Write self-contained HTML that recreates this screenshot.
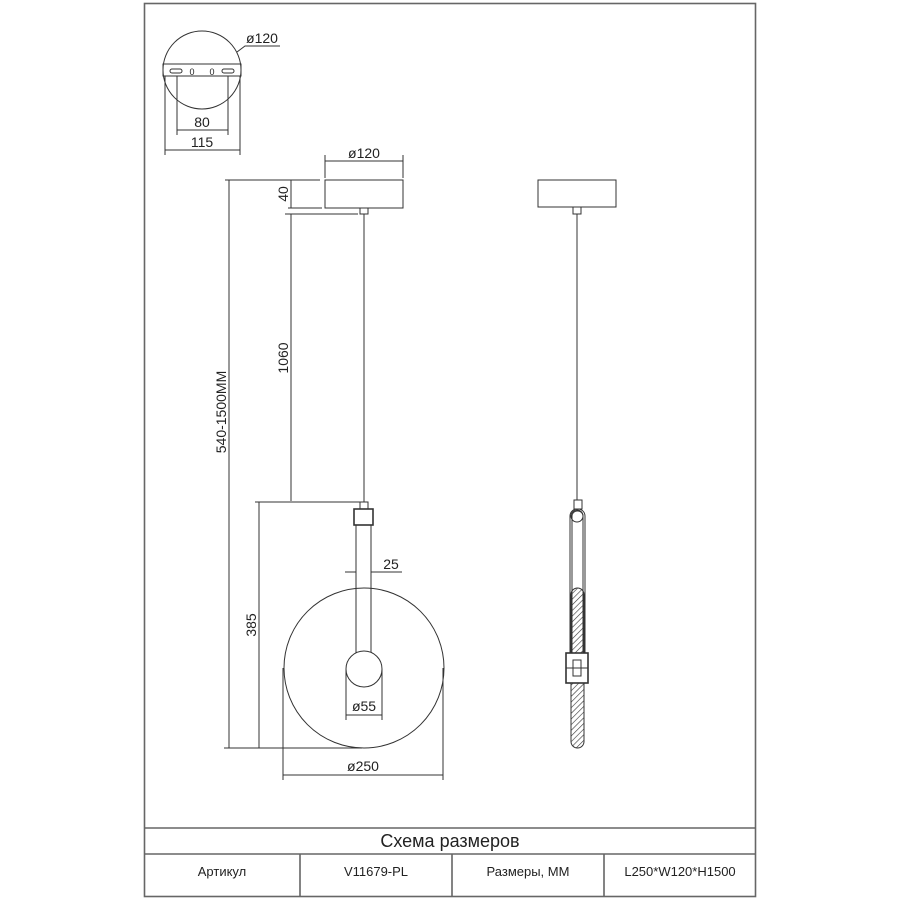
<!DOCTYPE html>
<html><head><meta charset="utf-8"><style>
html,body{margin:0;padding:0;background:#fff;}
svg{display:block;}
text{font-family:"Liberation Sans","DejaVu Sans",sans-serif;fill:#222;}
</style></head><body>
<svg width="900" height="900" viewBox="0 0 900 900" xmlns="http://www.w3.org/2000/svg">
<defs>
<pattern id="h" width="4" height="4" patternUnits="userSpaceOnUse" patternTransform="rotate(45)">
<line x1="0" y1="0" x2="0" y2="4" stroke="#333" stroke-width="1.2"/></pattern>
</defs>
<g fill="none" stroke="#666" stroke-width="1.6">
<rect x="144.5" y="3.5" width="611" height="893"/>
<line x1="144" y1="828" x2="756" y2="828"/>
<line x1="144" y1="854" x2="756" y2="854"/>
<line x1="300" y1="854" x2="300" y2="897"/>
<line x1="452" y1="854" x2="452" y2="897"/>
<line x1="604" y1="854" x2="604" y2="897"/>
</g>
<g fill="none" stroke="#333" stroke-width="1">
<circle cx="202" cy="70" r="39"/>
<rect x="163" y="64" width="78" height="12"/>
<rect x="170" y="69" width="12" height="4" rx="2"/>
<rect x="222" y="69" width="12" height="4" rx="2"/>
<polyline points="237,52 245,46 280,46"/>
<line x1="177" y1="76" x2="177" y2="135"/><line x1="228" y1="76" x2="228" y2="135"/>
<line x1="177" y1="130" x2="228" y2="130"/>
<line x1="165" y1="76" x2="165" y2="155"/><line x1="240" y1="76" x2="240" y2="155"/>
<line x1="165" y1="150" x2="240" y2="150"/>
<rect x="325" y="180" width="78" height="28"/>
<rect x="360" y="208" width="8" height="6"/>
<line x1="364" y1="214" x2="364" y2="502"/>
<line x1="325" y1="155" x2="325" y2="178"/><line x1="403" y1="155" x2="403" y2="178"/>
<line x1="325" y1="161" x2="403" y2="161"/>
<line x1="225" y1="180" x2="320" y2="180"/>
<line x1="229" y1="180" x2="229" y2="748"/>
<line x1="288" y1="208" x2="322" y2="208"/>
<line x1="291" y1="180" x2="291" y2="208"/>
<line x1="285" y1="214" x2="358" y2="214"/>
<line x1="291" y1="214" x2="291" y2="501"/>
<line x1="255" y1="502" x2="360" y2="502"/>
<line x1="259" y1="502" x2="259" y2="748"/>
<line x1="224" y1="748" x2="362" y2="748"/>
<rect x="360" y="502" width="8" height="7"/>
<rect x="354" y="509" width="19" height="16" stroke-width="1.6"/>
<line x1="356" y1="525" x2="356" y2="653"/><line x1="371" y1="525" x2="371" y2="653"/>
<circle cx="364" cy="668" r="80"/>
<circle cx="364" cy="669" r="18" fill="#fff"/>
<line x1="345" y1="572" x2="356" y2="572"/><line x1="371" y1="572" x2="402" y2="572"/>
<line x1="356" y1="566" x2="356" y2="578"/><line x1="371" y1="566" x2="371" y2="578"/>
<line x1="346" y1="669" x2="346" y2="720"/><line x1="382" y1="669" x2="382" y2="720"/>
<line x1="346" y1="715" x2="382" y2="715"/>
<line x1="283" y1="668" x2="283" y2="780"/><line x1="443" y1="668" x2="443" y2="780"/>
<line x1="283" y1="775" x2="443" y2="775"/>
<rect x="538" y="180" width="78" height="27"/>
<rect x="573" y="207" width="8" height="7"/>
<line x1="577" y1="214" x2="577" y2="500"/>
<rect x="574" y="500" width="8" height="9"/>
<rect x="570" y="509" width="15" height="170" rx="7"/>
<rect x="572" y="511" width="11" height="166" rx="5"/>
<circle cx="577" cy="516" r="6"/>
<rect x="571" y="588" width="13" height="160" rx="6.5" fill="url(#h)"/>
<rect x="566" y="653" width="22" height="30" fill="#fff" stroke-width="1.6"/>
<rect x="573" y="660" width="8" height="16" fill="#fff"/>
<line x1="566" y1="668" x2="588" y2="668"/>
</g>
<g font-size="14" text-anchor="middle">
<text x="262" y="43">ø120</text>
<text x="202" y="127">80</text>
<text x="202" y="147">115</text>
<text x="364" y="158">ø120</text>
<text x="391" y="569">25</text>
<text x="364" y="711">ø55</text>
<text x="363" y="771">ø250</text>
<text transform="translate(288,194) rotate(-90)">40</text>
<text transform="translate(288,358) rotate(-90)">1060</text>
<text transform="translate(256,625) rotate(-90)">385</text>
<text transform="translate(226,412) rotate(-90)">540-1500MM</text>
<text x="192" y="75" font-size="9">0</text>
<text x="212" y="75" font-size="9">0</text>
</g>
<g text-anchor="middle">
<text x="450" y="847" font-size="18">Схема размеров</text>
<text x="222" y="876" font-size="13">Артикул</text>
<text x="376" y="876" font-size="13">V11679-PL</text>
<text x="528" y="876" font-size="13">Размеры, MM</text>
<text x="680" y="876" font-size="13">L250*W120*H1500</text>
</g>
</svg>
</body></html>
